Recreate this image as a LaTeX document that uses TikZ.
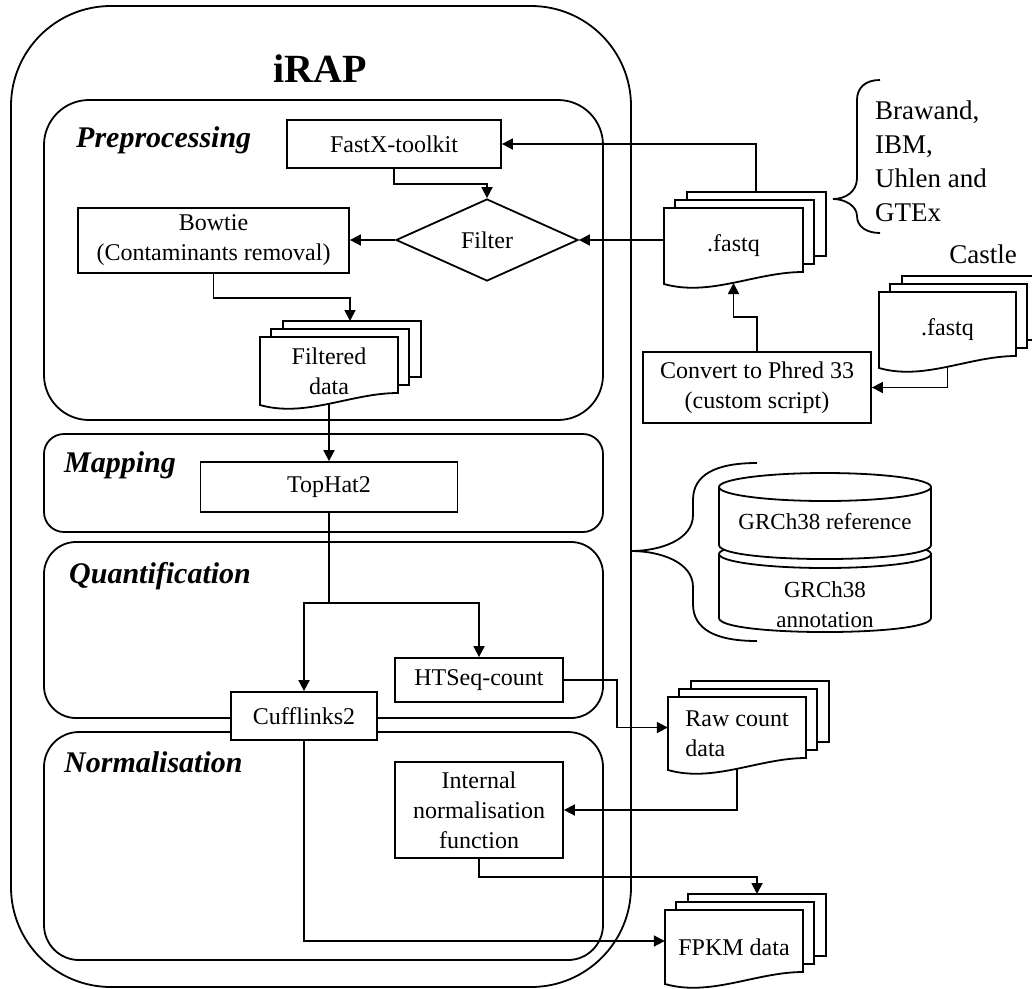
\documentclass[tikz,border=0pt]{standalone}
\usepackage{fontspec}
\setmainfont{Liberation Serif}
\usetikzlibrary{arrows.meta,shapes.geometric}
\tikzset{
  ln/.style={line width=1.8pt},
  arr/.style={ln, -{Triangle[length=11pt,width=11pt]}},
  stagebox/.style={draw, ln, rectangle, inner sep=0pt, minimum width=559pt},
  procbox/.style={draw, ln, fill=white, rectangle, inner sep=2pt, align=center, font=\fontsize{24}{30}\selectfont},
  stagelabel/.style={anchor=base west, inner sep=0pt, font=\fontsize{30}{36}\selectfont\bfseries\itshape},
  doctext/.style={font=\fontsize{24}{30}\selectfont},
  cyltext/.style={font=\fontsize{23}{30}\selectfont, align=center},
  bigtext/.style={font=\fontsize{27}{34}\selectfont},
}
\newcommand\docstack[7][center]{%
  \draw[ln, fill=white] (#3+23,#4-16) rectangle ++(#5,#6);
  \draw[ln, fill=white] (#3+11,#4-8) rectangle ++(#5,#6);
  \draw[ln, fill=white] (#3,#4) -- (#3+#5,#4) -- (#3+#5,#4+#6)
     .. controls (#3+0.66*#5,#4+#6) and (#3+0.33*#5,#4+#6+25) .. (#3,#4+#6+12) -- cycle;
  \node[inner sep=0pt, minimum width=#5pt, minimum height=#6pt,
        label={[doctext, align=#1, yshift=-6pt]center:#7}] (#2) at (#3+#5/2,#4+#6/2) {};
  \coordinate (#2-b) at (#3+#5/2,#4+#6+11);
}
\begin{document}
\begin{tikzpicture}[x=1pt,y=-1pt]
\useasboundingbox (0,0) rectangle (1032,988);
\clip (0,0) rectangle (1032,988);

% outer iRAP container
\node[draw, ln, rounded corners=100pt, minimum width=620pt, minimum height=981pt, inner sep=0pt] (irap) at (321,496.5) {};
\node[font=\fontsize{40}{48}\selectfont\bfseries, anchor=base] (title) at (320,82) {iRAP};

% stages
\node[stagebox, rounded corners=45pt, minimum height=320pt] (pre) at (323.5,260) {};
\node[stagebox, rounded corners=20pt, minimum height=98pt] (map) at (323.5,483) {};
\node[stagebox, rounded corners=32pt, minimum height=176pt] (quant) at (323.5,630) {};
\node[stagebox, rounded corners=35pt, minimum height=228pt] (norm) at (323.5,846) {};
\node[stagelabel] (lpre) at (76,147) {Preprocessing};
\node[stagelabel] (lmap) at (64,472) {Mapping};
\node[stagelabel] (lquant) at (69,583) {Quantification};
\node[stagelabel] (lnorm) at (64,772) {Normalisation};

% process boxes
\node[procbox, minimum width=214pt, minimum height=48pt] (fastx) at (394,144) {FastX-toolkit};
\node[draw, ln, diamond, aspect=2.2, minimum width=182pt, minimum height=82pt, inner sep=0pt, fill=white, font=\fontsize{24}{30}\selectfont] (filter) at (487,240) {Filter};
\node[procbox, minimum width=271pt, minimum height=65pt] (bowtie) at (213.5,240.5) {Bowtie\\(Contaminants removal)};
\node[procbox, minimum width=257pt, minimum height=50pt] (tophat) at (329,487) {TopHat2};
\node[procbox, minimum width=168pt, minimum height=44pt] (htseq) at (479,680) {HTSeq-count};
\node[procbox, minimum width=146pt, minimum height=48pt] (cuff) at (304,716) {Cufflinks2};
\node[procbox, minimum width=168pt, minimum height=96pt] (internal) at (479,810) {Internal\\normalisation\\function};
\node[procbox, minimum width=228pt, minimum height=71pt] (convert) at (757,387.5) {Convert to Phred 33\\(custom script)};

% document stacks
\docstack{filtered}{260}{337}{138}{56}{Filtered\\data}
\docstack{fastq}{664}{208}{139}{64}{.fastq}
\docstack{castle}{879}{292}{137}{64}{.fastq}
\docstack[left]{raw}{668}{697}{138}{61}{Raw count\\data}
\docstack{fpkm}{665}{910}{138}{62}{FPKM data}

\node[bigtext, anchor=base] (castlelbl) at (983,263) {Castle};
\node[bigtext, align=left, anchor=west, inner sep=0pt] (sources) at (875,161) {Brawand,\\IBM,\\Uhlen and\\GTEx};

% braces
\draw[ln] (880,80) .. controls (865,80) and (857,88) .. (857,100) -- (857,178)
  .. controls (857,192) and (845,199) .. (833,199)
  .. controls (845,199) and (857,206) .. (857,216)
  .. controls (857,227) and (867,233) .. (880,233);
\draw[ln] (757,463) .. controls (715,463) and (693,475) .. (693,500) -- (693,515)
  .. controls (693,540) and (660,551) .. (631,551)
  .. controls (660,551) and (693,562) .. (693,587) -- (693,604)
  .. controls (693,629) and (715,641) .. (757,641);

% reference cylinders
\draw[ln, fill=white] (719,554) -- (719,618) .. controls (719,636.7) and (931,636.7) .. (931,618) -- (931,554);
\draw[ln, fill=white] (825,554) ellipse[x radius=106, y radius=14];
\draw[ln, fill=white] (719,487) -- (719,545) .. controls (719,563.7) and (931,563.7) .. (931,545) -- (931,487);
\draw[ln, fill=white] (825,487) ellipse[x radius=106, y radius=14];
\node[cyltext] (grcref) at (825,522) {GRCh38 reference};
\node[cyltext] (grcann) at (825,605) {GRCh38\\annotation};

% connectors
\coordinate (fqtop) at (756,192);
\coordinate (filtin) at (350,321);
\coordinate (fpkmin) at (757,894);
\draw[arr] (fqtop) |- (fastx.east);
\draw[arr] (fastq.west) -- (filter.east);
\draw[arr] (filter.west) -- (filter.west -| bowtie.east);
\draw[arr] (fastx.south) -- ++(0,15) -| (filter.north);
\draw[arr] (bowtie.south) -- ++(0,24) -| (filtin);
\draw[arr] (filtered-b) -- (filtered-b |- tophat.north);
\draw[arr] (tophat.south) -- ++(0,90) -| (cuff.north);
\draw[arr] (tophat.south) -- ++(0,90) -| (htseq.north);
\draw[arr] (htseq.east) -- ++(53,0) |- (raw.west);
\draw[arr] (raw-b) |- (internal.east);
\draw[arr] (internal.south) -- ++(0,18) -| (fpkmin);
\draw[arr] (cuff.south) |- (fpkm.west);
\draw[arr] (convert.north) -- ++(0,-34) -| (fastq-b);
\draw[arr] (castle-b) |- (convert.east);
\end{tikzpicture}
\end{document}
